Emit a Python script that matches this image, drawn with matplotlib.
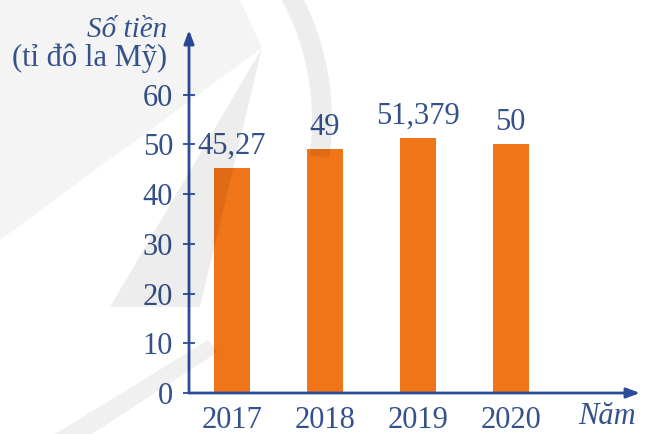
import matplotlib
matplotlib.use("Agg")
import matplotlib.pyplot as plt
from matplotlib.patches import Wedge, Polygon

years = ["2017", "2018", "2019", "2020"]
values = [45.27, 49, 51.379, 50]
value_labels = ["45,27", "49", "51,379", "50"]
yticks = [0, 10, 20, 30, 40, 50, 60]

axis_color = "#2b4c9b"
text_color = "#34518c"
bar_color = "#f07418"

plt.rcParams['font.family'] = ['Liberation Serif', 'DejaVu Serif']

fig = plt.figure(figsize=(6.49, 4.34), dpi=100)
fig.patch.set_facecolor("white")

ax = fig.add_axes([189/649, 1-393/434, (640-189)/649, (393-30)/434])
ax.patch.set_alpha(0)
x = list(range(len(years)))
ax.bar(x, values, width=0.39, color=bar_color, zorder=2)
ax.set_xlim(-0.46, 4.39)
ax.set_ylim(0, 73)

for xi, v, lab in zip(x, values, value_labels):
    ax.annotate(lab, (xi, v), xytext=(0, 5), textcoords="offset points",
                ha="center", va="bottom", fontsize=22, color=text_color)

for s in ax.spines.values():
    s.set_visible(False)

ax.set_yticks(yticks)
ax.set_yticklabels([str(t) for t in yticks], fontsize=22, color=text_color)
ax.tick_params(axis="y", direction="inout", length=9, width=1.3, color=axis_color, pad=7)
ax.set_xticks(x)
ax.set_xticklabels(years, fontsize=22, color=text_color)
ax.tick_params(axis="x", length=0, pad=9)

# axes with arrows
ax.annotate("", xy=(0, 1.0), xytext=(0, 0), xycoords="axes fraction",
            arrowprops=dict(arrowstyle="-|>,head_length=0.8,head_width=0.3", color=axis_color, lw=2, shrinkA=0, shrinkB=0))
ax.annotate("", xy=(1.0, 0), xytext=(0, 0), xycoords="axes fraction",
            arrowprops=dict(arrowstyle="-|>,head_length=0.8,head_width=0.3", color=axis_color, lw=2, shrinkA=0, shrinkB=0))

fig.text(167/649, 1-30/434, "Số tiền", ha="right", va="center", fontsize=21,
         style="italic", color=text_color)
fig.text(167/649, 1-58/434, "(tỉ đô la Mỹ)", ha="right", va="center", fontsize=22,
         color=text_color)
fig.text(636/649, 1-416/434, "Năm", ha="right", va="center", fontsize=22,
         style="italic", color=text_color)

# faint watermark overlay (decorative)
wm = fig.add_axes([0, 0, 1, 1])
wm.patch.set_alpha(0)
wm.set_xlim(0, 649)
wm.set_ylim(434, 0)
wm.axis("off")
wm.add_patch(Polygon([(0, 0), (240, 0), (262, 48), (0, 240)], closed=True,
                     facecolor="black", alpha=0.045, lw=0))
wm.add_patch(Polygon([(262, 48), (110, 307), (200, 307)], closed=True,
                     facecolor="black", alpha=0.07, lw=0))
wm.add_patch(Wedge((60, 120), 272, -35, 8, width=20, facecolor="black", alpha=0.07, lw=0))
wm.add_patch(Polygon([(55, 434), (92, 434), (218, 352), (208, 340)], closed=True,
                     facecolor="black", alpha=0.06, lw=0))

fig.savefig("out.png", dpi=100, facecolor="white")
